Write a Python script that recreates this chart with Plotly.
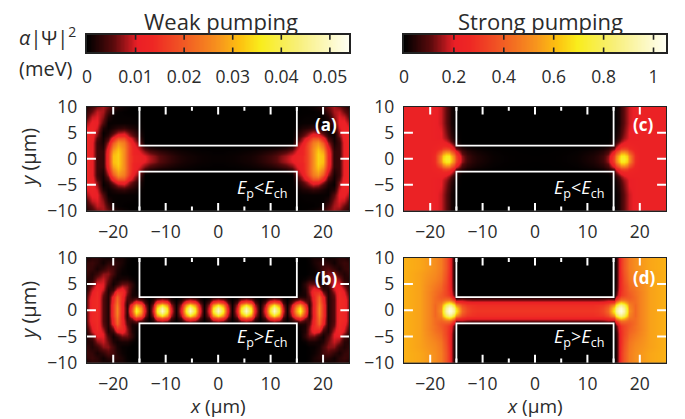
import numpy as np
import plotly.graph_objects as go

W, H = 685, 419
FONT = "Open Sans"
INK = "#2b2b2b"

# half-axes (figure is mirrored about x=0 and y=0)
y_half = [0, .5, 1, 1.5, 2, 2.5, 3, 3.5, 4, 4.5, 5, 6, 7, 8, 9, 10]
x_chan_a = list(range(15))
x_lobe_a = [15, 16, 17, 18, 19, 20, 21, 22, 23, 24, 25]
x_chan_b = [0, .9, 1.8, 2.65, 3.5, 4.4, 5.3, 6.2, 7.1, 8, 8.9, 9.8, 10.7, 11.6, 12.4, 13.1, 13.9, 14.8]
x_lobe_b = [15.6, 16.5, 17.4, 18.3, 19.2, 20, 21, 22, 23, 24, 25]
x_chan_cd = [0, 2, 4, 6, 8, 10, 11, 12, 13, 14]
x_lobe_cd = [15, 15.5, 16, 16.5, 17, 17.5, 18, 19, 20, 22, 25]

# (a) weak pumping, Ep<Ech, units of 1e-3 meV
chan_a = [
    [.4, .4, .5, .6, .8, 1, 1.3, 1.7, 2.3, 3, 4, 5.2, 7, 8.5, 10.5],
    [.4, .4, .5, .6, .8, 1, 1.2, 1.6, 2.2, 2.9, 3.8, 5, 6.7, 8, 10],
    [.3, .3, .4, .5, .6, .8, 1, 1.3, 1.7, 2.3, 3, 3.9, 5.3, 6.5, 8.5],
    [.2, .2, .3, .3, .4, .5, .7, .9, 1.2, 1.5, 2, 2.6, 3.5, 4.5, 6.5],
    [.1, .1, .1, .2, .2, .3, .3, .4, .6, .8, 1, 1.3, 1.8, 2.5, 4.5],
    [0, 0, 0, 0, 0, .1, .1, .1, .1, .2, .2, .3, .5, .8, 2],
]
lobe_a = [
    [12, 13, 17, 26, 33, 31, 14, 3, 3.5, 11, 13],
    [12, 13, 17, 26, 33, 31, 14, 3, 3.5, 11, 13],
    [11, 12, 17, 26, 33, 30, 14, 3, 3.5, 11, 13],
    [10, 12, 17, 26, 32, 28, 13, 3, 3.5, 11, 13],
    [9, 12, 17, 26, 31, 26, 12, 2.5, 3.5, 11, 13],
    [8, 11, 17, 25, 29, 23, 10, 2, 3.5, 11, 13],
    [6, 10, 16, 24, 27, 20, 8, 1.5, 3.5, 11, 13],
    [4.5, 8.5, 14, 22, 24, 16, 6, 1.2, 4, 11.5, 13],
    [3, 7, 11, 18, 18, 12, 4, 1, 5, 12, 13],
    [2, 5, 8, 13, 13, 8, 2.5, .7, 6.5, 12, 12.5],
    [1.5, 3.5, 6, 9, 8, 4.5, 1.5, .5, 7.5, 12.5, 12],
    [.5, 1.5, 2, 3, 2.5, 1.5, .6, 2, 9.5, 12, 10],
    [.2, .4, .5, .5, .5, .5, .5, 5, 10.5, 11, 8],
    [.1, .2, .3, .3, .3, .5, 2, 7, 10, 9, 5],
    [0, .1, .1, .2, .4, 1, 4, 8, 9, 6, 3.5],
    [0, .1, .3, .8, 1.5, 3, 6, 8, 6.5, 4, 2],
]

# (b) weak pumping, Ep>Ech, units of 1e-3 meV
chan_b = [
    [50, 37, 11, 1, 11, 37, 50, 37, 11, 1, 11, 37, 50, 37, 10, 1, 10, 28],
    [46, 34, 10, 1, 10, 34, 46, 34, 10, 1, 10, 34, 46, 34, 9, 1, 9, 26],
    [35, 26, 8, .7, 8, 26, 35, 26, 8, .7, 8, 26, 35, 26, 7, .7, 7, 20],
    [21, 16, 5, .4, 5, 16, 21, 16, 5, .4, 5, 16, 21, 16, 4, .4, 4, 12],
    [9, 7, 2, .2, 2, 7, 9, 7, 2, .2, 2, 7, 9, 7, 2, .2, 2, 5],
    [1.5, 1, .3, 0, .3, 1, 1.5, 1, .3, 0, .3, 1, 1.5, 1, .3, 0, .3, 1],
]
lobe_b = [
    [38, 20, 3, 12, 25, 15, 2, 5, 14, 13, 6],
    [35, 18, 3, 12, 25, 15, 2, 5, 14, 13, 6],
    [27, 14, 2.5, 12, 24, 15, 2, 5, 14, 13, 6],
    [16, 8, 3, 12, 23, 14, 2, 5, 14, 13, 6],
    [7, 4, 4, 13, 22, 13, 2, 5, 14, 13, 6],
    [2, 2, 5, 13, 21, 12, 2, 5.5, 14, 12, 5.5],
    [1, 1.5, 6, 14, 18, 9, 2, 6, 14, 11, 5],
    [.7, 1.8, 7, 14, 15, 6, 1.8, 7.5, 14, 10, 4],
    [.5, 2, 7, 12, 10, 3.5, 2, 9, 13, 9, 3],
    [.4, 2.5, 7, 9, 6, 2, 3, 10, 12, 7, 2.5],
    [.3, 2.5, 5.5, 5.5, 2.5, 1, 4.5, 10, 10, 4.5, 2],
    [.1, .5, 1.5, 1.5, 1, 2, 6, 9, 7, 2.5, 2],
    [0, 0, .3, .5, 1.5, 4, 7, 7, 3.5, 2, 3],
    [0, 0, .2, .8, 2, 4, 5, 3, 1.5, 3, 3.5],
    [0, 0, .3, 1.5, 2.5, 3, 2.5, 1, 2.5, 3.5, 3],
    [0, 0, .5, 1.5, 1.5, 1.5, 1, 1.5, 2.5, 2.5, 1.5],
]

# (c) strong pumping, Ep<Ech, units of 1e-2 meV
chan_c = [
    [.2, .2, .3, .5, 1, 2.5, 3.5, 5, 8, 15],
    [.2, .2, .3, .5, 1, 2.4, 3.3, 4.8, 7.5, 14],
    [.1, .2, .2, .4, .8, 2, 2.8, 4, 6, 11],
    [.1, .1, .2, .3, .6, 1.4, 2, 3, 4.5, 8],
    [0, .1, .1, .2, .3, .7, 1, 1.5, 2.5, 5],
    [0, 0, 0, .1, .1, .2, .3, .5, 1, 2],
]
lobe_c = [
    [35, 50, 63, 72, 72, 66, 52, 28, 22, 22, 22],
    [33, 47, 60, 69, 69, 63, 50, 28, 22, 22, 22],
    [28, 40, 50, 60, 61, 54, 43, 27, 22, 22, 22],
    [20, 30, 38, 45, 46, 42, 35, 25, 22, 22, 22],
    [12, 21, 28, 33, 34, 32, 28, 24, 22, 22, 22],
    [7, 14, 21, 24, 26, 26, 25, 23, 22, 22, 22],
    [3, 8, 14, 18, 21, 23, 23, 22, 22, 22, 22],
    [2, 5, 10, 14, 18, 20, 22, 22, 22, 22, 22],
    [1, 3, 7, 11, 15, 18, 20, 21, 22, 22, 22],
    [.7, 2.5, 6, 10, 14, 17.5, 20, 21, 22, 22, 22],
    [.5, 2, 5, 9, 13, 17, 20, 21, 22, 22, 22],
    [0, 1.5, 4, 8, 12, 16, 19, 21, 22, 22, 22],
    [0, 1, 3, 7, 11, 15, 18, 21, 22, 22, 22],
    [0, 1, 3, 7, 11, 15, 18, 21, 22, 22, 22],
    [0, 1, 3, 7, 11, 15, 18, 21, 22, 22, 22],
    [0, 1, 3, 7, 11, 15, 18, 21, 22, 22, 22],
]

# (d) strong pumping, Ep>Ech, units of 1e-2 meV
chan_d = [
    [30, 30, 30, 30, 30, 30, 30, 31, 34, 42],
    [29, 29, 29, 29, 29, 29, 29, 30, 33, 40],
    [28, 28, 28, 28, 28, 28, 28, 29, 30, 35],
    [24, 24, 24, 24, 24, 24, 24, 24, 25, 28],
    [12, 12, 12, 12, 12, 12, 12, 12, 13, 15],
    [2, 2, 2, 2, 2, 2, 2, 2, 2, 3],
]
lobe_d = [
    [70, 90, 100, 102, 92, 72, 52, 42, 48, 55, 58],
    [65, 85, 96, 98, 88, 70, 50, 42, 48, 55, 58],
    [50, 70, 84, 86, 78, 62, 48, 42, 48, 55, 58],
    [34, 52, 64, 68, 62, 52, 45, 43, 48, 55, 58],
    [14, 30, 40, 44, 44, 42, 41, 43, 48, 55, 58],
    [2, 17, 29, 35, 37, 38, 39, 43, 48, 55, 58],
    [.5, 10, 23, 30, 34, 37, 39, 44, 48, 55, 58],
    [.2, 8, 21, 29, 34, 37, 40, 44, 48, 55, 58],
    [0, 6, 20, 28, 34, 38, 41, 45, 49, 55, 58],
    [0, 5.5, 19, 28, 34, 38, 42, 46, 49, 55, 58],
    [0, 5, 19, 28, 35, 39, 43, 47, 50, 55, 58],
    [0, 4, 19, 28, 36, 41, 45, 49, 51, 55, 58],
    [0, 4, 19, 29, 37, 42, 46, 50, 52, 55, 58],
    [0, 4, 19, 30, 38, 43, 47, 51, 53, 56, 58],
    [0, 4, 19, 30, 38, 43, 47, 51, 53, 56, 58],
    [0, 4, 19, 30, 38, 43, 47, 51, 53, 56, 58],
]

wall_x = [-15, -15, 15, 15]
wall_top_y = [10, 2.5, 2.5, 10]
wall_bot_y = [-10, -2.5, -2.5, -10]

weak_max, strong_max = 0.054, 1.05
weak_ticks = [0, 0.01, 0.02, 0.03, 0.04, 0.05]
weak_labels = ["0", "0.01", "0.02", "0.03", "0.04", "0.05"]
strong_ticks = [0, 0.2, 0.4, 0.6, 0.8, 1]
strong_labels = ["0", "0.2", "0.4", "0.6", "0.8", "1"]

# tick positions inside each panel, and their lengths in axis units
major_x = [-20, -10, 0, 10, 20]
minor_x = [-15, -5, 5, 15]
side_y = [-5, 0, 5]
major_len_y, minor_len_y, side_len_x = 1.5, 0.8, 1.7

colorscale = [
    [0, "#000000"], [0.1, "#5a0a0c"], [0.19, "#ea1f26"], [0.25, "#ee2724"],
    [0.37, "#f15a24"], [0.5, "#f7941d"], [0.58, "#fdc010"], [0.66, "#f9ed1c"],
    [0.8, "#f8ef78"], [1, "#fffff4"],
]


def full_field(x_chan, x_lobe, chan, lobe, unit):
    x = np.array(list(x_chan) + list(x_lobe), float)
    z = np.zeros((len(y_half), len(x)))
    z[:len(chan), :len(x_chan)] = np.array(chan)
    z[:, len(x_chan):] = np.array(lobe)
    z = np.hstack([z[:, :0:-1], z])
    z = np.vstack([z[:0:-1, :], z]) * unit
    xs = np.concatenate([-x[:0:-1], x])
    ys = np.concatenate([-np.array(y_half)[:0:-1], np.array(y_half)])
    return xs, ys, z


def dom_x(a, b):
    return [a / W, b / W]


def dom_y(top, bot):
    return [1 - bot / H, 1 - top / H]


L = (87, 349.3)
R = (404, 666)
panels = [
    ("", L, (106.7, 210.7), (x_chan_a, x_lobe_a, chan_a, lobe_a, 1e-3), weak_max),
    ("2", L, (257.7, 362.7), (x_chan_b, x_lobe_b, chan_b, lobe_b, 1e-3), weak_max),
    ("3", R, (106.7, 210.7), (x_chan_cd, x_lobe_cd, chan_c, lobe_c, 1e-2), strong_max),
    ("4", R, (257.7, 362.7), (x_chan_cd, x_lobe_cd, chan_d, lobe_d, 1e-2), strong_max),
]
bars = [
    ("5", L, weak_max, weak_ticks, weak_labels),
    ("6", R, strong_max, strong_ticks, strong_labels),
]

fig = go.Figure()
tickfont = dict(family=FONT, size=17.5, color=INK)
layout = dict(
    template="none",
    width=W, height=H, autosize=False, margin=dict(l=0, r=0, t=0, b=0, pad=0),
    paper_bgcolor="white", plot_bgcolor="black", showlegend=False,
    font=dict(family=FONT, color=INK),
)

for s, xd, yd, args, zmax in panels:
    xs, ys, z = full_field(*args)
    fig.add_trace(go.Heatmap(x=xs, y=ys, z=z, zmin=0, zmax=zmax, zsmooth="best",
                             colorscale=colorscale, showscale=False, hoverinfo="skip",
                             xaxis="x" + s, yaxis="y" + s))
    for wy in (wall_top_y, wall_bot_y):
        fig.add_trace(go.Scatter(x=wall_x, y=wy, mode="lines", hoverinfo="skip",
                                 line=dict(color="white", width=1.8),
                                 xaxis="x" + s, yaxis="y" + s))
    for xv in major_x:
        for a, b in ((10, 10 - major_len_y), (-10, -10 + major_len_y)):
            fig.add_trace(go.Scatter(x=[xv, xv], y=[a, b], mode="lines", hoverinfo="skip",
                                     line=dict(color="white", width=2),
                                     xaxis="x" + s, yaxis="y" + s))
    for xv in minor_x:
        for a, b in ((10, 10 - minor_len_y), (-10, -10 + minor_len_y)):
            fig.add_trace(go.Scatter(x=[xv, xv], y=[a, b], mode="lines", hoverinfo="skip",
                                     line=dict(color="white", width=2),
                                     xaxis="x" + s, yaxis="y" + s))
    for yv in side_y:
        for a, b in ((-25, -25 + side_len_x), (25, 25 - side_len_x)):
            fig.add_trace(go.Scatter(x=[a, b], y=[yv, yv], mode="lines", hoverinfo="skip",
                                     line=dict(color="white", width=2),
                                     xaxis="x" + s, yaxis="y" + s))
    layout["xaxis" + s] = dict(
        domain=dom_x(*xd), range=[-25, 25], anchor="y" + s, tick0=0, dtick=10, automargin=False,
        ticks="", mirror=True, showline=True, linecolor="#222", linewidth=1.3,
        showgrid=False, zeroline=False, tickfont=tickfont, ticklabelstandoff=5,
    )
    layout["yaxis" + s] = dict(
        domain=dom_y(*yd), range=[-10, 10], anchor="x" + s, tick0=0, dtick=5, automargin=False,
        ticks="", mirror=True, showline=True, linecolor="#222", linewidth=1.3,
        showgrid=False, zeroline=False, tickfont=tickfont, ticklabelstandoff=5,
    )

for s, xd, vmax, tv, tl in bars:
    vals = np.linspace(0, vmax, 200)
    fig.add_trace(go.Heatmap(x=vals, y=[0, 1], z=[vals, vals], zmin=0, zmax=vmax, zsmooth="best",
                             colorscale=colorscale, showscale=False, hoverinfo="skip",
                             xaxis="x" + s, yaxis="y" + s))
    for tv_i in tv[1:]:
        for a, b in ((0, 0.28), (1, 0.72)):
            fig.add_trace(go.Scatter(x=[tv_i, tv_i], y=[a, b], mode="lines", hoverinfo="skip",
                                     line=dict(color="#222", width=1.6),
                                     xaxis="x" + s, yaxis="y" + s))
    layout["xaxis" + s] = dict(
        domain=dom_x(*xd), range=[0, vmax], anchor="y" + s, tickmode="array", automargin=False,
        tickvals=tv, ticktext=tl, ticks="",
        mirror=True, showline=True, linecolor="#222", linewidth=1.5,
        showgrid=False, zeroline=False, tickfont=tickfont, ticklabelstandoff=8,
    )
    layout["yaxis" + s] = dict(
        domain=dom_y(35, 52.3), range=[0, 1], anchor="x" + s, showticklabels=False, ticks="",
        mirror=True, showline=True, linecolor="#222", linewidth=1.5, automargin=False,
        showgrid=False, zeroline=False,
    )


def note(text, px, py, size=18, color=INK, anchor="center", angle=0):
    return dict(text=text, x=px / W, y=1 - py / H, xref="paper", yref="paper",
                xanchor=anchor, yanchor="middle", showarrow=False, textangle=angle,
                font=dict(family=FONT, size=size, color=color))


lt = "<i>E</i><sub>p</sub>&lt;<i>E</i><sub>ch</sub>"
gt = "<i>E</i><sub>p</sub>&gt;<i>E</i><sub>ch</sub>"
layout["annotations"] = [
    note("Weak pumping", 221, 21, 22),
    note("Strong pumping", 540, 21, 22),
    note("<i>α</i>|Ψ|<sup>2</sup>", 17, 37, 20, anchor="left"),
    note("(meV)", 17, 68, 20, anchor="left"),
    note("<i>y</i> (µm)", 28, 158, 20, angle=-90),
    note("<i>y</i> (µm)", 28, 311, 20, angle=-90),
    note("<i>x</i> (µm)", 218, 406, 19),
    note("<i>x</i> (µm)", 535, 406, 19),
    note("<b>(a)</b>", 326, 125, 17, "white"),
    note("<b>(b)</b>", 326, 278, 17, "white"),
    note("<b>(c)</b>", 643, 125, 17, "white"),
    note("<b>(d)</b>", 644, 277, 17, "white"),
    note(lt, 262, 188, 18, "white"),
    note(gt, 262, 337, 18, "white"),
    note(lt, 579, 188, 18, "white"),
    note(gt, 579, 337, 18, "white"),
]
fig.update_layout(**layout)
fig.write_html("out.html", post_script="document.body.style.margin='0';",
               config={"displayModeBar": False})
